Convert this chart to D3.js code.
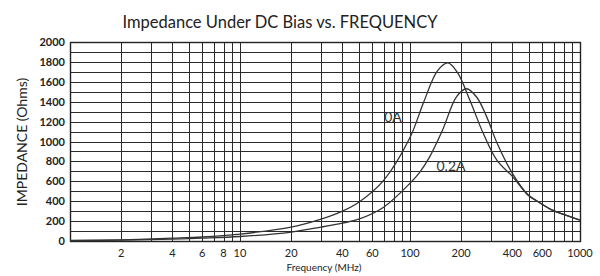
<!DOCTYPE html>
<html>
<head>
<meta charset="utf-8">
<script src="https://cdn.jsdelivr.net/npm/d3@7/dist/d3.min.js"></script>
<style>
  body { margin: 0; background: #fff; }
  svg { display: block; font-family: "Lato", "Open Sans", sans-serif; }
</style>
</head>
<body>
<div id="chart"></div>
<script>
// values
var freq0A = [1, 2, 4, 6, 10, 20, 30, 40, 50, 70, 100, 120, 145, 167, 190, 225, 270, 325, 400, 495, 560, 685, 800, 1000]
var imp0A  = [5, 12, 28, 40, 70, 140, 220, 300, 390, 610, 1040, 1390, 1710, 1790, 1695, 1415, 1080, 810, 650, 460, 400, 310, 268, 210]
var freq02A = [1, 2, 4, 6, 10, 20, 30, 40, 50, 70, 100, 114, 130, 155, 188, 215, 247, 283, 325, 400, 495, 560, 685, 800, 1000]
var imp02A  = [3, 8, 18, 28, 45, 90, 140, 180, 220, 340, 580, 690, 840, 1110, 1450, 1530, 1445, 1245, 985, 680, 465, 402, 312, 268, 210]
var xTickLabels = [2, 4, 6, 8, 10, 20, 40, 60, 100, 200, 400, 600, 1000]
var yTickLabels = [0, 200, 400, 600, 800, 1000, 1200, 1400, 1600, 1800, 2000]

var W = 600, H = 276
var plotL = 70, plotR = 580, plotT = 42, plotB = 241
var svg = d3.select('#chart').append('svg').attr('width', W).attr('height', H)

var x = d3.scaleLog().domain([1, 1000]).range([plotL, plotR])
var y = d3.scaleLinear().domain([0, 2000]).range([plotB, plotT])

// vertical grid: 1..9 per decade
var vLines = []
for (var d = 1; d <= 100; d *= 10)
  for (var k = 1; k <= 9; k++) vLines.push(d * k)
vLines.push(1000)

var grid = svg.append('g').attr('stroke', '#2a2a2a').attr('stroke-width', 1).attr('shape-rendering', 'crispEdges')
grid.selectAll('line.v').data(vLines).enter().append('line')
  .attr('x1', function(d) { return Math.round(x(d)) + 0.5 })
  .attr('x2', function(d) { return Math.round(x(d)) + 0.5 })
  .attr('y1', plotT).attr('y2', plotB)
grid.selectAll('line.h').data(d3.range(0, 2001, 100)).enter().append('line')
  .attr('y1', function(d) { return Math.round(y(d)) + 0.5 })
  .attr('y2', function(d) { return Math.round(y(d)) + 0.5 })
  .attr('x1', plotL).attr('x2', plotR)
svg.append('rect').attr('x', plotL + 0.5).attr('y', plotT + 0.5)
  .attr('width', plotR - plotL).attr('height', plotB - plotT)
  .attr('fill', 'none').attr('stroke', '#222').attr('stroke-width', 1.4)

// curves
var line = d3.line()
  .x(function(d) { return x(d[0]) })
  .y(function(d) { return y(d[1]) })
  .curve(d3.curveCatmullRom.alpha(0.5))
var series = [
  d3.zip(freq0A, imp0A),
  d3.zip(freq02A, imp02A)
]
svg.selectAll('path.curve').data(series).enter().append('path')
  .attr('class', 'curve')
  .attr('d', line)
  .attr('fill', 'none')
  .attr('stroke', '#333')
  .attr('stroke-width', 1.3)

// curve labels
svg.append('text').attr('x', 393).attr('y', 122).attr('text-anchor', 'middle')
  .attr('font-size', 14).attr('fill', '#333').text('0A')
svg.append('text').attr('x', 451).attr('y', 171).attr('text-anchor', 'middle')
  .attr('font-size', 14).attr('fill', '#333').text('0.2A')

// axis labels
svg.selectAll('text.ytick').data(yTickLabels).enter().append('text')
  .attr('x', 65).attr('y', function(d) { return y(d) + 4 })
  .attr('text-anchor', 'end').attr('font-size', 11).attr('font-weight', 'bold').attr('fill', '#222')
  .text(function(d) { return d })
svg.selectAll('text.xtick').data(xTickLabels).enter().append('text')
  .attr('x', function(d) { return x(d) }).attr('y', 257)
  .attr('text-anchor', 'middle').attr('font-size', 11).attr('fill', '#222')
  .text(function(d) { return d })

svg.append('text').attr('x', 324).attr('y', 271).attr('text-anchor', 'middle')
  .attr('font-size', 10).attr('fill', '#222').text('Frequency (MHz)')
svg.append('text').attr('transform', 'translate(27,142) rotate(-90)').attr('text-anchor', 'middle')
  .attr('font-size', 14).attr('fill', '#222').text('IMPEDANCE (Ohms)')
svg.append('text').attr('x', 280).attr('y', 28).attr('text-anchor', 'middle')
  .attr('font-size', 16.5).attr('fill', '#222').text('Impedance Under DC Bias vs. FREQUENCY')
</script>
</body>
</html>
